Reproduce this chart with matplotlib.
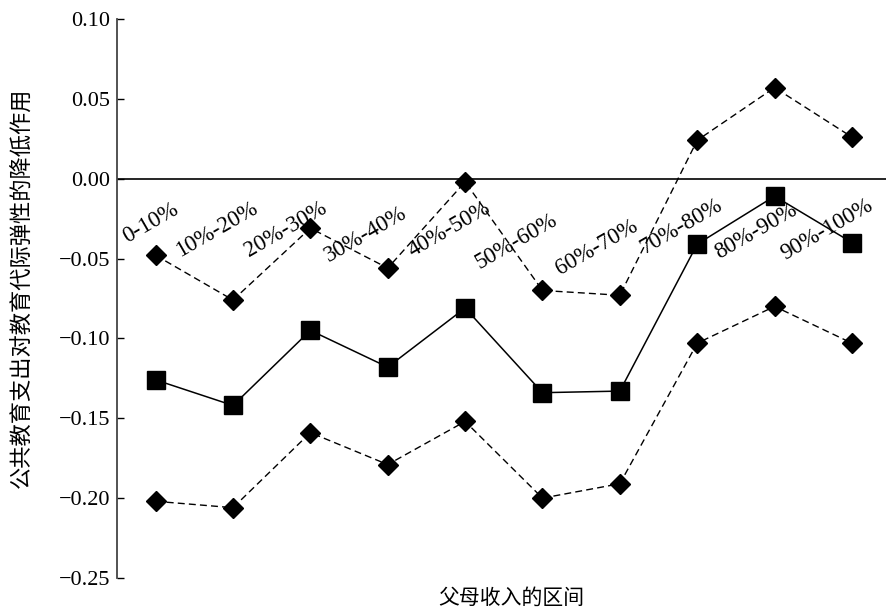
import matplotlib

matplotlib.use("Agg")
import matplotlib.pyplot as plt

plt.rcParams["font.family"] = ["Liberation Serif", "Noto Sans CJK SC"]
plt.rcParams["axes.unicode_minus"] = True

groups = ["0-10%", "10%-20%", "20%-30%", "30%-40%", "40%-50%",
          "50%-60%", "60%-70%", "70%-80%", "80%-90%", "90%-100%"]
x_pos = [1, 2, 3, 4, 5, 6, 7, 8, 9, 10]

upper = [-0.048, -0.076, -0.031, -0.056, -0.002, -0.070, -0.073, 0.024, 0.057, 0.026]
estimate = [-0.126, -0.142, -0.095, -0.118, -0.081, -0.134, -0.133, -0.041, -0.011, -0.040]
lower = [-0.202, -0.206, -0.159, -0.179, -0.152, -0.200, -0.191, -0.103, -0.080, -0.103]

# where each group label sits (data coords)
label_x = [0.93, 1.79, 2.68, 3.71, 4.79, 5.66, 6.70, 7.80, 8.76, 9.68]
label_y = [-0.028, -0.032, -0.032, -0.035, -0.032, -0.039, -0.043, -0.030, -0.033, -0.032]

fig = plt.figure(figsize=(8.86, 6.10), dpi=100)
ax = fig.add_axes([0.132, 0.0525, 0.868, 0.9165])

dash = (0, (5, 3))
ax.plot(x_pos, upper, color="black", linewidth=1.0, linestyle=dash,
        marker="D", markersize=10.5, clip_on=False)
ax.plot(x_pos, estimate, color="black", linewidth=1.1, linestyle="-",
        marker="s", markersize=12.5, clip_on=False)
ax.plot(x_pos, lower, color="black", linewidth=1.0, linestyle=dash,
        marker="D", markersize=10.5, clip_on=False)

ax.axhline(0, color="black", linewidth=1.2)

for name, lx, ly in zip(groups, label_x, label_y):
    ax.text(lx, ly, name, rotation=30, ha="center", va="center", fontsize=16.5)

ax.set_xlim(0.5, 10.44)
ax.set_ylim(-0.25, 0.10)
ticks = [0.10, 0.05, 0.00, -0.05, -0.10, -0.15, -0.20, -0.25]
ax.set_yticks(ticks)
ax.set_yticklabels([f"{v:.2f}".replace("-", "\u2212") for v in ticks])
ax.tick_params(axis="y", direction="in", length=5, width=1, labelsize=16, pad=5)
ax.set_xticks([])

for side in ["top", "right", "bottom"]:
    ax.spines[side].set_visible(False)
ax.spines["left"].set_color("#444444")
ax.spines["left"].set_linewidth(1.3)

fig.text(0.025, 0.528, "公共教育支出对教育代际弹性的降低作用", rotation=90,
         ha="center", va="center", fontsize=16, family=["Noto Sans CJK SC"])
fig.text(0.577, 0.02, "父母收入的区间", ha="center", va="center",
         fontsize=15, family=["Noto Sans CJK SC"])

fig.savefig("out.png", dpi=100)
